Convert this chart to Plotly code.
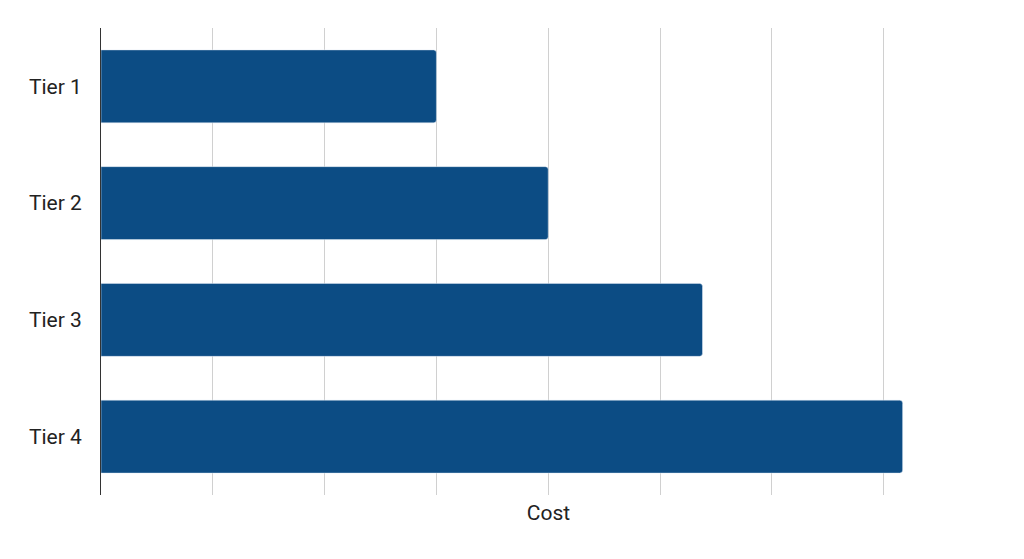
import plotly.graph_objects as go

tiers = ["Tier 1", "Tier 2", "Tier 3", "Tier 4"]
cost = [3.0, 4.0, 5.38, 7.17]

fig = go.Figure(go.Bar(
    x=cost, y=tiers, orientation="h",
    marker=dict(color="#0c4c84", cornerradius=3),
))

fig.update_layout(
    width=1024, height=559,
    margin=dict(l=93, r=36, t=20, b=72),
    plot_bgcolor="white", paper_bgcolor="white",
    font=dict(family="Roboto", size=21, color="#222222"),
    bargap=0.375,
    showlegend=False,
)
fig.update_xaxes(
    range=[0, 8.005], dtick=1, showticklabels=False,
    showgrid=True, gridcolor="#d0d0d0", gridwidth=1,
    zeroline=False,
    title=dict(text="Cost", font=dict(size=21), standoff=10),
)
fig.update_yaxes(
    autorange="reversed", showline=True, linecolor="#333333", linewidth=1,
    ticks="", ticklabelstandoff=14,
)

fig.write_html("out.html")
